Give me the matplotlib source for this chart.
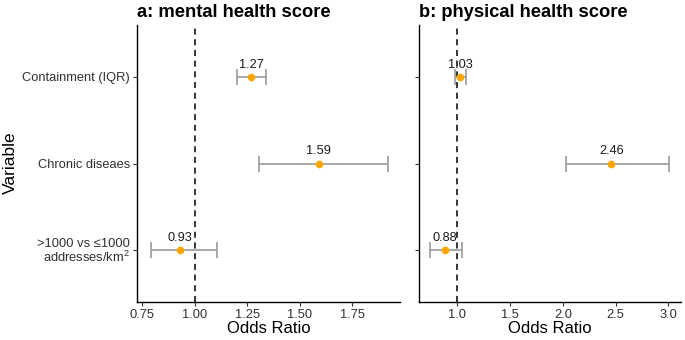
import matplotlib.pyplot as plt

plt.rcParams['font.family'] = ['Liberation Sans', 'DejaVu Sans']
plt.rcParams['mathtext.fontset'] = 'custom'
plt.rcParams['mathtext.rm'] = 'Liberation Sans'
plt.rcParams['mathtext.default'] = 'regular'

variables = ['Containment (IQR)', 'Chronic diseaes', '>1000 vs \u22641000\naddresses/km$^2$']

# mental health score
mental_or = [1.27, 1.59, 0.93]
mental_lo = [1.20, 1.305, 0.79]
mental_hi = [1.337, 1.922, 1.104]

# physical health score
phys_or = [1.03, 2.46, 0.88]
phys_lo = [0.974, 2.03, 0.74]
phys_hi = [1.079, 3.01, 1.044]

titles = ['a: mental health score', 'b: physical health score']
xticks_a = [0.75, 1.00, 1.25, 1.50, 1.75]
xticks_b = [1.0, 1.5, 2.0, 2.5, 3.0]

fig = plt.figure(figsize=(6.85, 3.4), dpi=100)
ax1 = fig.add_axes([137 / 685, 38 / 340, (400 - 137) / 685, (302 - 25) / 340])
ax2 = fig.add_axes([419 / 685, 38 / 340, (681 - 419) / 685, (302 - 25) / 340])

ypos = [3, 2, 1]
txtcol = '#303030'


def draw_panel(ax, est, lo, hi, title, ticks, fmt, xlim):
    for y, e, l, h in zip(ypos, est, lo, hi):
        ax.errorbar(e, y, xerr=[[e - l], [h - e]], fmt='none', ecolor='#999999',
                    elinewidth=1.2, capsize=5.8, capthick=1.2, zorder=2)
        ax.plot(e, y, 'o', color='#FFA500', markersize=4.5, zorder=3)
        ax.annotate('%.2f' % e, (e, y), xytext=(0, 4.5), textcoords='offset points',
                    ha='center', va='bottom', fontsize=9.2, color='#1a1a1a')
    ax.axvline(1, color='black', linestyle=(0, (4, 3)), linewidth=1.1, zorder=1)
    ax.set_xlim(*xlim)
    ax.set_ylim(0.4, 3.6)
    ax.set_xticks(ticks)
    ax.set_xticklabels([fmt % t for t in ticks])
    ax.set_yticks(ypos)
    ax.spines['top'].set_visible(False)
    ax.spines['right'].set_visible(False)
    for s in ['left', 'bottom']:
        ax.spines[s].set_linewidth(1.0)
    ax.tick_params(length=3, width=0.8, color='#333333', labelsize=9.3, labelcolor=txtcol, pad=2)
    ax.set_xlabel('Odds Ratio', fontsize=12, labelpad=0)
    ax.set_title(title, loc='left', fontsize=13.2, fontweight='bold', pad=6)


draw_panel(ax1, mental_or, mental_lo, mental_hi, titles[0], xticks_a, '%.2f', (0.725, 1.977))
ax1.set_yticklabels(variables, linespacing=0.95)
fig.text(10 / 685, 1 - 163 / 340, 'Variable', rotation=90, fontsize=12.5,
         ha='center', va='center')

draw_panel(ax2, phys_or, phys_lo, phys_hi, titles[1], xticks_b, '%.1f', (0.637, 3.12))
ax2.set_yticklabels([])

fig.savefig('out.png', dpi=100)
